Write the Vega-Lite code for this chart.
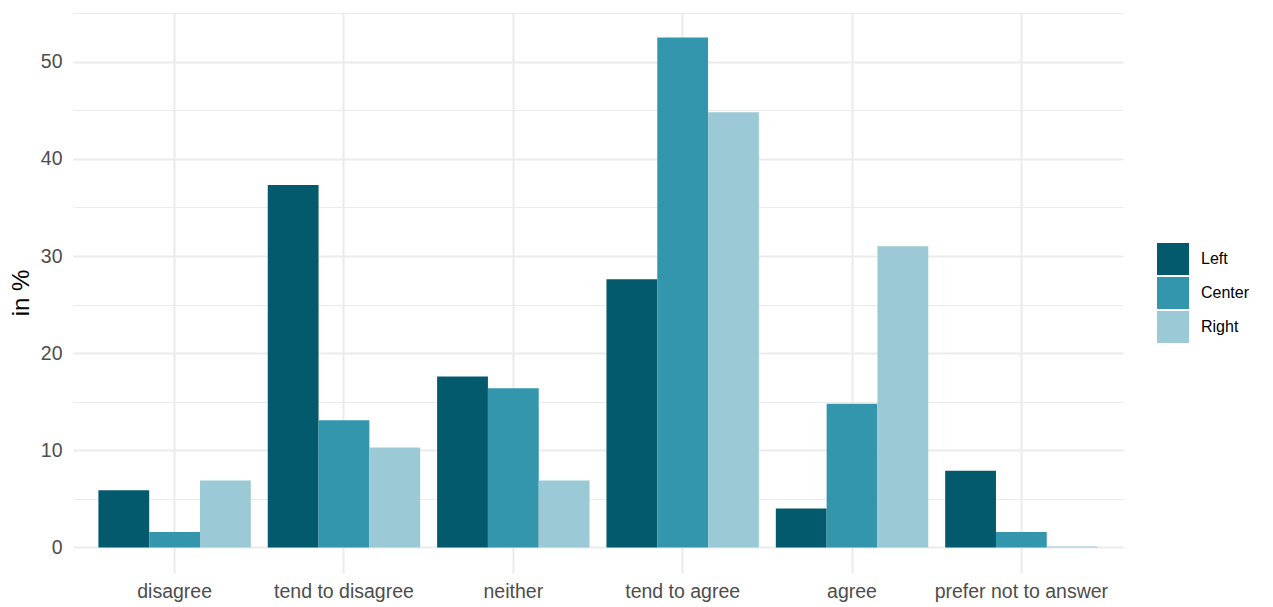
{
  "$schema": "https://vega.github.io/schema/vega-lite/v6.json",
  "width": 1050,
  "height": 561,
  "autosize": {"type": "none"},
  "padding": {"left": 73, "top": 12, "right": 150, "bottom": 34},
  "background": "white",
  "config": {
    "view": {"stroke": null},
    "font": "Liberation Sans",
    "axis": {"labelFont": "Liberation Sans", "titleFont": "Liberation Sans"}
  },
  "data": {
    "values": [
      {"answer": "disagree", "group": "Left", "pct": 5.9},
      {"answer": "disagree", "group": "Center", "pct": 1.6},
      {"answer": "disagree", "group": "Right", "pct": 6.9},
      {"answer": "tend to disagree", "group": "Left", "pct": 37.3},
      {"answer": "tend to disagree", "group": "Center", "pct": 13.1},
      {"answer": "tend to disagree", "group": "Right", "pct": 10.3},
      {"answer": "neither", "group": "Left", "pct": 17.6},
      {"answer": "neither", "group": "Center", "pct": 16.4},
      {"answer": "neither", "group": "Right", "pct": 6.9},
      {"answer": "tend to agree", "group": "Left", "pct": 27.6},
      {"answer": "tend to agree", "group": "Center", "pct": 52.5},
      {"answer": "tend to agree", "group": "Right", "pct": 44.8},
      {"answer": "agree", "group": "Left", "pct": 4.0},
      {"answer": "agree", "group": "Center", "pct": 14.8},
      {"answer": "agree", "group": "Right", "pct": 31.0},
      {"answer": "prefer not to answer", "group": "Left", "pct": 7.9},
      {"answer": "prefer not to answer", "group": "Center", "pct": 1.6},
      {"answer": "prefer not to answer", "group": "Right", "pct": 0.1}
    ]
  },
  "encoding": {
    "x": {
      "field": "answer",
      "type": "nominal",
      "sort": ["disagree", "tend to disagree", "neither", "tend to agree", "agree", "prefer not to answer"],
      "scale": {"paddingInner": 0.1, "paddingOuter": 0.15},
      "axis": {
        "title": null,
        "labelAngle": 0,
        "labelFontSize": 19.5,
        "labelColor": "#4d4d4d",
        "labelPadding": 9,
        "ticks": false,
        "domain": false,
        "grid": true,
        "bandPosition": 0.5,
        "gridColor": "#ebebeb",
        "gridWidth": 2
      }
    }
  },
  "layer": [
    {
      "mark": {"type": "bar", "opacity": 0},
      "encoding": {
        "y": {
          "field": "pct",
          "type": "quantitative",
          "axis": {
            "orient": "right",
            "title": null,
            "values": [5, 15, 25, 35, 45, 55],
            "labels": false,
            "ticks": false,
            "domain": false,
            "grid": true,
            "gridColor": "#ebebeb",
            "gridWidth": 1.2
          }
        }
      }
    },
    {
      "mark": {"type": "bar"},
      "encoding": {
        "y": {
          "field": "pct",
          "type": "quantitative",
          "scale": {"domain": [-2.63, 55.12], "nice": false, "zero": false},
          "axis": {
            "title": "in %",
            "titleFontSize": 24,
            "titleFontWeight": "normal",
            "titleColor": "black",
            "titlePadding": 7,
            "values": [0, 10, 20, 30, 40, 50],
            "labelFontSize": 19.5,
            "labelColor": "#4d4d4d",
            "labelPadding": 11,
            "ticks": false,
            "domain": false,
            "grid": true,
            "gridColor": "#ebebeb",
            "gridWidth": 2
          }
        },
        "y2": {"datum": 0},
        "xOffset": {
          "field": "group",
          "type": "nominal",
          "sort": ["Left", "Center", "Right"],
          "scale": {"paddingInner": 0, "paddingOuter": 0}
        },
        "color": {
          "field": "group",
          "type": "nominal",
          "sort": ["Left", "Center", "Right"],
          "scale": {"domain": ["Left", "Center", "Right"], "range": ["#035a6d", "#3396ad", "#9bcad6"]},
          "legend": {
            "title": null,
            "orient": "none",
            "legendX": 1084,
            "legendY": 231,
            "padding": 0,
            "symbolType": "square",
            "symbolSize": 1024,
            "symbolStrokeWidth": 0,
            "symbolOpacity": 1,
            "rowPadding": 2,
            "labelFontSize": 16,
            "labelColor": "black",
            "labelOffset": 12,
            "clipHeight": 32
          }
        }
      }
    }
  ],
  "resolve": {"scale": {"y": "shared"}, "axis": {"y": "independent"}}
}
